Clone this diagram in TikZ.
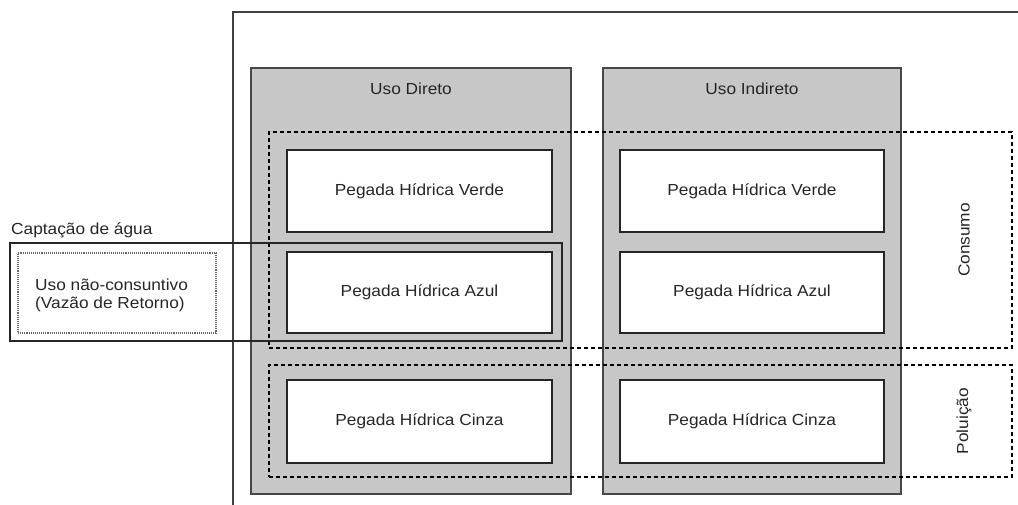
\documentclass[tikz,border=0pt]{standalone}
\usepackage{fontspec}
\setmainfont[FakeStretch=1.08]{Liberation Sans}
\begin{document}
\begin{tikzpicture}[x=1pt,y=-1pt,
  txt/.style={font=\fontsize{16}{18}\selectfont, text=black!85, inner sep=0pt},
  framel/.style={draw=black!75, line width=1.3pt},
  usebox/.style={draw=black!72, fill=black!22, line width=2pt, inner sep=0pt},
  pegada/.style={draw=black!85, fill=white, line width=1.6pt, inner sep=0pt, txt},
  dashbox/.style={draw=black, dash pattern=on 4pt off 3pt, line width=1.1pt, inner sep=0pt},
  solidbox/.style={draw=black!85, line width=1.3pt, inner sep=0pt},
  dotbox/.style={draw=black!60, densely dotted, line width=1.1pt, inner sep=0pt}]
\useasboundingbox (0,0) rectangle (1018,505);
% outer frame (open at right and bottom)
\coordinate (fbl) at (233,505);
\coordinate (ftl) at (233,12);
\coordinate (ftr) at (1018,12);
\draw[framel] (fbl) -- (ftl) -- (ftr);
% use columns
\node[usebox, minimum width=320pt, minimum height=426pt] (direto) at (411,281) {};
\node[usebox, minimum width=298pt, minimum height=426pt] (indireto) at (752,281) {};
\node[txt] (ldireto) at (411,89) {Uso Direto};
\node[txt] (lindireto) at (752,89) {Uso Indireto};
% consumption / pollution groups
\node[dashbox, minimum width=743pt, minimum height=216pt] (consumo) at (640.5,240) {};
\node[dashbox, minimum width=743pt, minimum height=112pt] (poluicao) at (640.5,421) {};
\node[txt, rotate=90] (lconsumo) at (964,240) {Consumo};
\node[txt, rotate=90] (lpoluicao) at (964,421) {Poluição};
% water footprint boxes
\node[pegada, minimum width=265pt, minimum height=82pt] (dverde) at (419.5,191) {Pegada Hídrica Verde};
\node[pegada, minimum width=265pt, minimum height=81pt] (dazul) at (419.5,292.5) {Pegada Hídrica Azul};
\node[pegada, minimum width=265pt, minimum height=83pt] (dcinza) at (419.5,421.5) {Pegada Hídrica Cinza};
\node[pegada, minimum width=264pt, minimum height=82pt] (iverde) at (752,191) {Pegada Hídrica Verde};
\node[pegada, minimum width=264pt, minimum height=81pt] (iazul) at (752,292.5) {Pegada Hídrica Azul};
\node[pegada, minimum width=264pt, minimum height=83pt] (icinza) at (752,421.5) {Pegada Hídrica Cinza};
% water withdrawal
\node[solidbox, minimum width=552pt, minimum height=98pt] (captacao) at (286,292) {};
\node[txt, anchor=west] (lcaptacao) at (11,230) {Captação de água};
\node[dotbox, minimum width=198pt, minimum height=80pt] (naocons) at (117,293) {};
\node[txt, anchor=west, align=left] (lnaocons) at (35,295) {Uso não-consuntivo\\(Vazão de Retorno)};
\end{tikzpicture}
\end{document}
